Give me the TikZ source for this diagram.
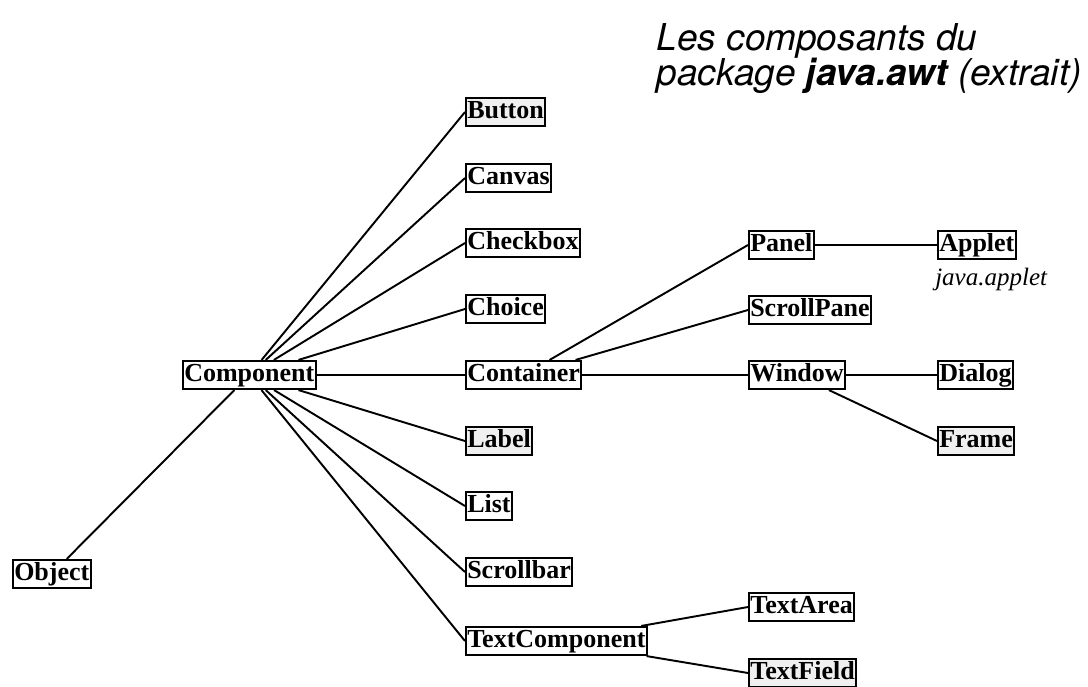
\documentclass[tikz,border=0pt]{standalone}
\usepackage{fontspec}
\setmainfont{Liberation Serif}
\newfontfamily\titlefont{TeX Gyre Heros}

\begin{document}
\begin{tikzpicture}[x=0.75pt, y=-0.75pt,
        cls/.style={draw, line width=1.4pt, anchor=west, font=\fontsize{19.5}{23}\selectfont\bfseries,
            inner xsep=1pt, inner ysep=0.8pt, text height=14.8pt, text depth=4.8pt},
        shaded/.style={cls, fill=black!6},
        link/.style={line width=1.45pt}]
            \useasboundingbox (0,0) rectangle (1088,686);
            \node[anchor=base west, font=\titlefont\fontsize{27.75}{26}\selectfont\itshape] (title1) at (652,50) {Les composants du};
            \node[anchor=base west, font=\titlefont\fontsize{27.75}{26}\selectfont\itshape] (title2) at (652,85) {package \textbf{java.awt} (extrait)};
            \node[cls] (Object) at (12,574) {Object};
            \node[cls] (Component) at (182,375) {Component};
            \node[shaded] (Button) at (465,112) {Button};
            \node[cls] (Canvas) at (465,178) {Canvas};
            \node[cls] (Checkbox) at (465,243) {Checkbox};
            \node[cls] (Choice) at (465,309) {Choice};
            \node[cls] (Container) at (465,375) {Container};
            \node[shaded] (Label) at (465,441) {Label};
            \node[cls] (List) at (465,506) {List};
            \node[cls] (Scrollbar) at (465,572) {Scrollbar};
            \node[cls] (TextComponent) at (465,641) {TextComponent};
            \node[cls] (Panel) at (748,245) {Panel};
            \node[cls] (ScrollPane) at (748,310) {ScrollPane};
            \node[cls] (Window) at (748,375) {Window};
            \node[cls] (TextArea) at (748,607) {TextArea};
            \node[shaded] (TextField) at (748,673) {TextField};
            \node[cls] (Applet) at (937,245) {Applet};
            \node[anchor=base west, font=\fontsize{18.75}{22}\selectfont\itshape, inner sep=0pt] (pkg) at (935,285) {java.applet};
            \node[cls] (Dialog) at (937,375) {Dialog};
            \node[shaded] (Frame) at (937,441) {Frame};
            \draw[link] (Component) to (Object);
            \foreach \n in {Button,Canvas,Checkbox,Choice,Container,Label,List,Scrollbar,TextComponent}
                \draw[link] (Component) to (\n.west);
            \foreach \n in {Panel,ScrollPane,Window}
                \draw[link] (Container) to (\n.west);
            \draw[link] (Panel) to (Applet);
            \draw[link] (Window) to (Dialog);
            \draw[link] (Window) to (Frame.west);
            \draw[link] (TextComponent) to (TextArea.west);
            \draw[link] (TextComponent) to (TextField.west);
        \end{tikzpicture}
\end{document}
